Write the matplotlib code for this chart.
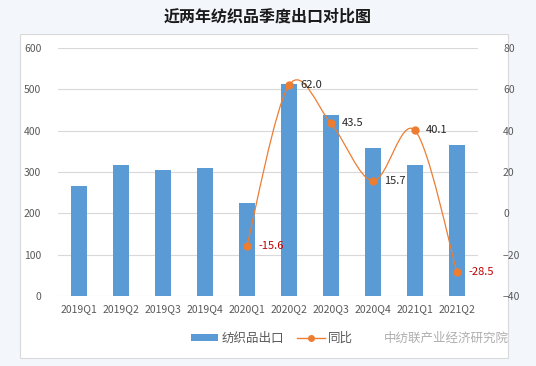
import matplotlib.pyplot as plt
from matplotlib.patches import Rectangle, PathPatch
from matplotlib.path import Path
from matplotlib.lines import Line2D
from matplotlib.patches import Patch

plt.rcParams['font.family'] = ['Noto Sans CJK SC', 'DejaVu Sans']

quarters = ["2019Q1", "2019Q2", "2019Q3", "2019Q4", "2020Q1",
            "2020Q2", "2020Q3", "2020Q4", "2021Q1", "2021Q2"]
exports = [266, 317, 305, 310, 225, 513, 438, 358, 317, 365]
yoy_quarters = ["2020Q1", "2020Q2", "2020Q3", "2020Q4", "2021Q1", "2021Q2"]
yoy = [-15.6, 62.0, 43.5, 15.7, 40.1, -28.5]

bar_color = '#5B9BD5'
line_color = '#ED7D31'

fig = plt.figure(figsize=(5.36, 3.66), dpi=100, facecolor='#f3f6fb')
# white chart panel
fig.patches.append(Rectangle((20 / 536, 1 - 358 / 366), 488 / 536, 324 / 366,
                             transform=fig.transFigure, facecolor='white',
                             edgecolor='#d9d9d9', linewidth=0.8, zorder=-10))
fig.text(0.5, 1 - 17 / 366, "近两年纺织品季度出口对比图", ha='center', va='center',
         fontsize=11.5, fontweight='bold', color='#1a1a1a')

ax = fig.add_axes([58 / 536, 1 - 296 / 366, 420 / 536, 248 / 366])
ax.set_facecolor('none')
x = list(range(len(quarters)))
ax.bar(x, exports, width=0.36, color=bar_color, zorder=2)
ax.set_ylim(0, 600)
ax.set_yticks(range(0, 601, 100))
ax.set_xlim(-0.5, len(quarters) - 0.5)
ax.set_xticks(x)
ax.set_xticklabels(quarters)
ax.grid(axis='y', color='#d9d9d9', linewidth=0.8, zorder=0)
for s in ax.spines.values():
    s.set_visible(False)
ax.tick_params(axis='x', length=0, labelsize=7.5, colors='#595959', pad=6)
ax.tick_params(axis='y', length=0, labelsize=7.5, colors='#595959', pad=12)

ax2 = ax.twinx()
ax2.set_ylim(-40, 80)
ax2.set_yticks(range(-40, 81, 20))
for s in ax2.spines.values():
    s.set_visible(False)
ax2.tick_params(length=0, labelsize=7.5, colors='#595959', pad=18)

# smooth line (Catmull-Rom drawn as cubic Bezier)
xs = [quarters.index(q) for q in yoy_quarters]
pts = list(zip(xs, yoy))
verts = [pts[0]]
codes = [Path.MOVETO]
t = 1 / 6
for i in range(len(pts) - 1):
    p0 = pts[i - 1] if i > 0 else pts[i]
    p1 = pts[i]
    p2 = pts[i + 1]
    p3 = pts[i + 2] if i + 2 < len(pts) else pts[i + 1]
    c1 = (p1[0] + (p2[0] - p0[0]) * t, p1[1] + (p2[1] - p0[1]) * t)
    c2 = (p2[0] - (p3[0] - p1[0]) * t, p2[1] - (p3[1] - p1[1]) * t)
    verts += [c1, c2, p2]
    codes += [Path.CURVE4] * 3
ax2.add_patch(PathPatch(Path(verts, codes), facecolor='none', edgecolor=line_color,
                        linewidth=0.9, zorder=3))
ax2.plot(xs, yoy, 'o', color=line_color, markersize=5, zorder=4)
for xi, v in zip(xs, yoy):
    ax2.annotate(f"{v:.1f}", (xi, v), xytext=(8, 0), textcoords='offset points',
                 ha='left', va='center', fontsize=8,
                 color='#c00000' if v < 0 else '#262626', zorder=5)

handles = [Patch(facecolor=bar_color, edgecolor='none'),
           Line2D([], [], color=line_color, marker='o', markersize=4, linewidth=1)]
fig.legend(handles, ["纺织品出口", "同比"], loc='center', bbox_to_anchor=(272 / 536, 1 - 338 / 366),
           ncol=2, frameon=False, fontsize=9, handlelength=2.2, handleheight=0.5,
           columnspacing=1.0, handletextpad=0.3, labelcolor='#595959')
fig.text(446 / 536, 1 - 338 / 366, "中纺联产业经济研究院", ha='center', va='center',
         fontsize=9, color='#9a9a9a', alpha=0.8)

fig.savefig("out.png", dpi=100, facecolor=fig.get_facecolor())
